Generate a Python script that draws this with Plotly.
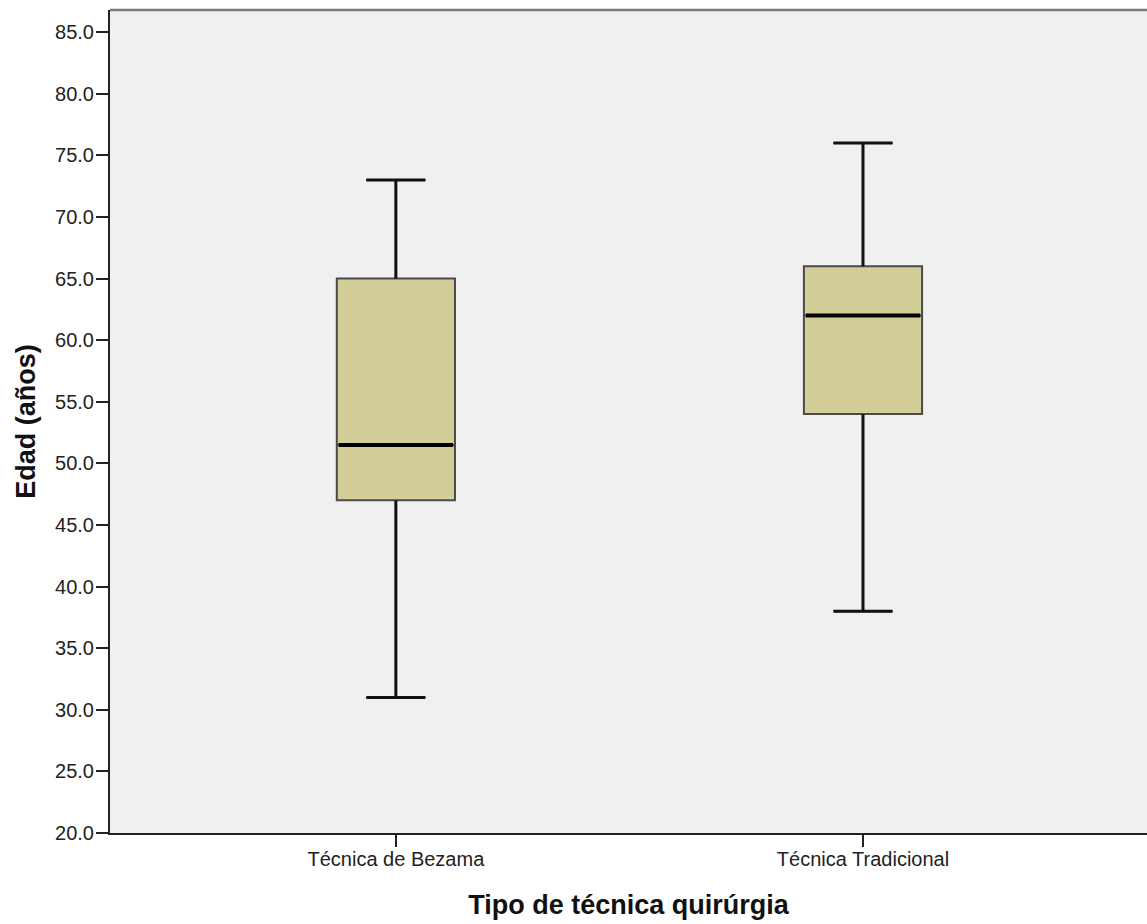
import plotly.graph_objects as go

# Age summary per surgical technique (years)
categories = ["Técnica de Bezama", "Técnica Tradicional"]
lower_whisker = [31.0, 38.0]
q1 = [47.0, 54.0]
median = [51.5, 62.0]
q3 = [65.0, 66.0]
upper_whisker = [73.0, 76.0]
y_ticks = [20.0, 25.0, 30.0, 35.0, 40.0, 45.0, 50.0, 55.0, 60.0, 65.0, 70.0, 75.0, 80.0, 85.0]

positions = list(range(len(categories)))
box_width = 0.253
cap_width = 0.5 * box_width

fig = go.Figure()
fig.add_trace(go.Box(
    x=positions,
    q1=q1, median=median, q3=q3,
    lowerfence=lower_whisker, upperfence=upper_whisker,
    fillcolor="#D3CE97",
    line=dict(color="#4a4a4a", width=2),
    width=box_width,
    whiskerwidth=0.5,
    boxpoints=False,
    hoverinfo="skip",
    showlegend=False,
))

# heavier black whiskers with caps, drawn over the box trace's own whiskers
for p, lo, b1, b3, hi in zip(positions, lower_whisker, q1, q3, upper_whisker):
    fig.add_trace(go.Scatter(
        x=[p, p, None, p - cap_width / 2, p + cap_width / 2, None,
           p, p, None, p - cap_width / 2, p + cap_width / 2],
        y=[b3, hi, None, hi, hi, None, b1, lo, None, lo, lo],
        mode="lines",
        line=dict(color="#111111", width=3),
        hoverinfo="skip",
        showlegend=False,
    ))

# thicker median bars across each box
for p, m in zip(positions, median):
    fig.add_trace(go.Scatter(
        x=[p - box_width / 2 + 0.004, p + box_width / 2 - 0.004],
        y=[m, m],
        mode="lines",
        line=dict(color="black", width=4),
        hoverinfo="skip",
        showlegend=False,
    ))

font_family = "Liberation Sans, Arial, sans-serif"
fig.update_layout(
    width=1147, height=924,
    margin=dict(l=110, r=0, t=10, b=91),
    paper_bgcolor="white",
    plot_bgcolor="#F0F0F0",
    font=dict(family=font_family, size=20, color="#222222"),
    xaxis=dict(
        range=[-0.612, 1.608],
        tickmode="array",
        tickvals=positions,
        ticktext=categories,
        ticks="outside", ticklen=12, tickwidth=2, tickcolor="#222222",
        ticklabelstandoff=-5,
        showline=True, linecolor="#222222", linewidth=2,
        showgrid=False, zeroline=False,
        tickfont=dict(size=20, color="#222222"),
        title=dict(text="Tipo de técnica quirúrgia",
                   font=dict(size=27, color="#111111", family=font_family, weight="bold"),
                   standoff=26),
    ),
    yaxis=dict(
        range=[20.0, 86.8],
        tickmode="array",
        tickvals=y_ticks,
        ticktext=[f"{v:.1f}" for v in y_ticks],
        ticks="outside", ticklen=12, tickwidth=2, tickcolor="#222222",
        ticklabelstandoff=-2,
        showline=True, linecolor="#222222", linewidth=2,
        showgrid=False, zeroline=False,
        tickfont=dict(size=20, color="#222222"),
        title=dict(text="Edad (años)",
                   font=dict(size=27, color="#111111", family=font_family, weight="bold"),
                   standoff=12),
    ),
    shapes=[dict(type="line", xref="paper", yref="paper", x0=0, x1=1, y0=1, y1=1,
                 line=dict(color="#7a7a7a", width=2.5))],
)

fig.write_html("out.html")
